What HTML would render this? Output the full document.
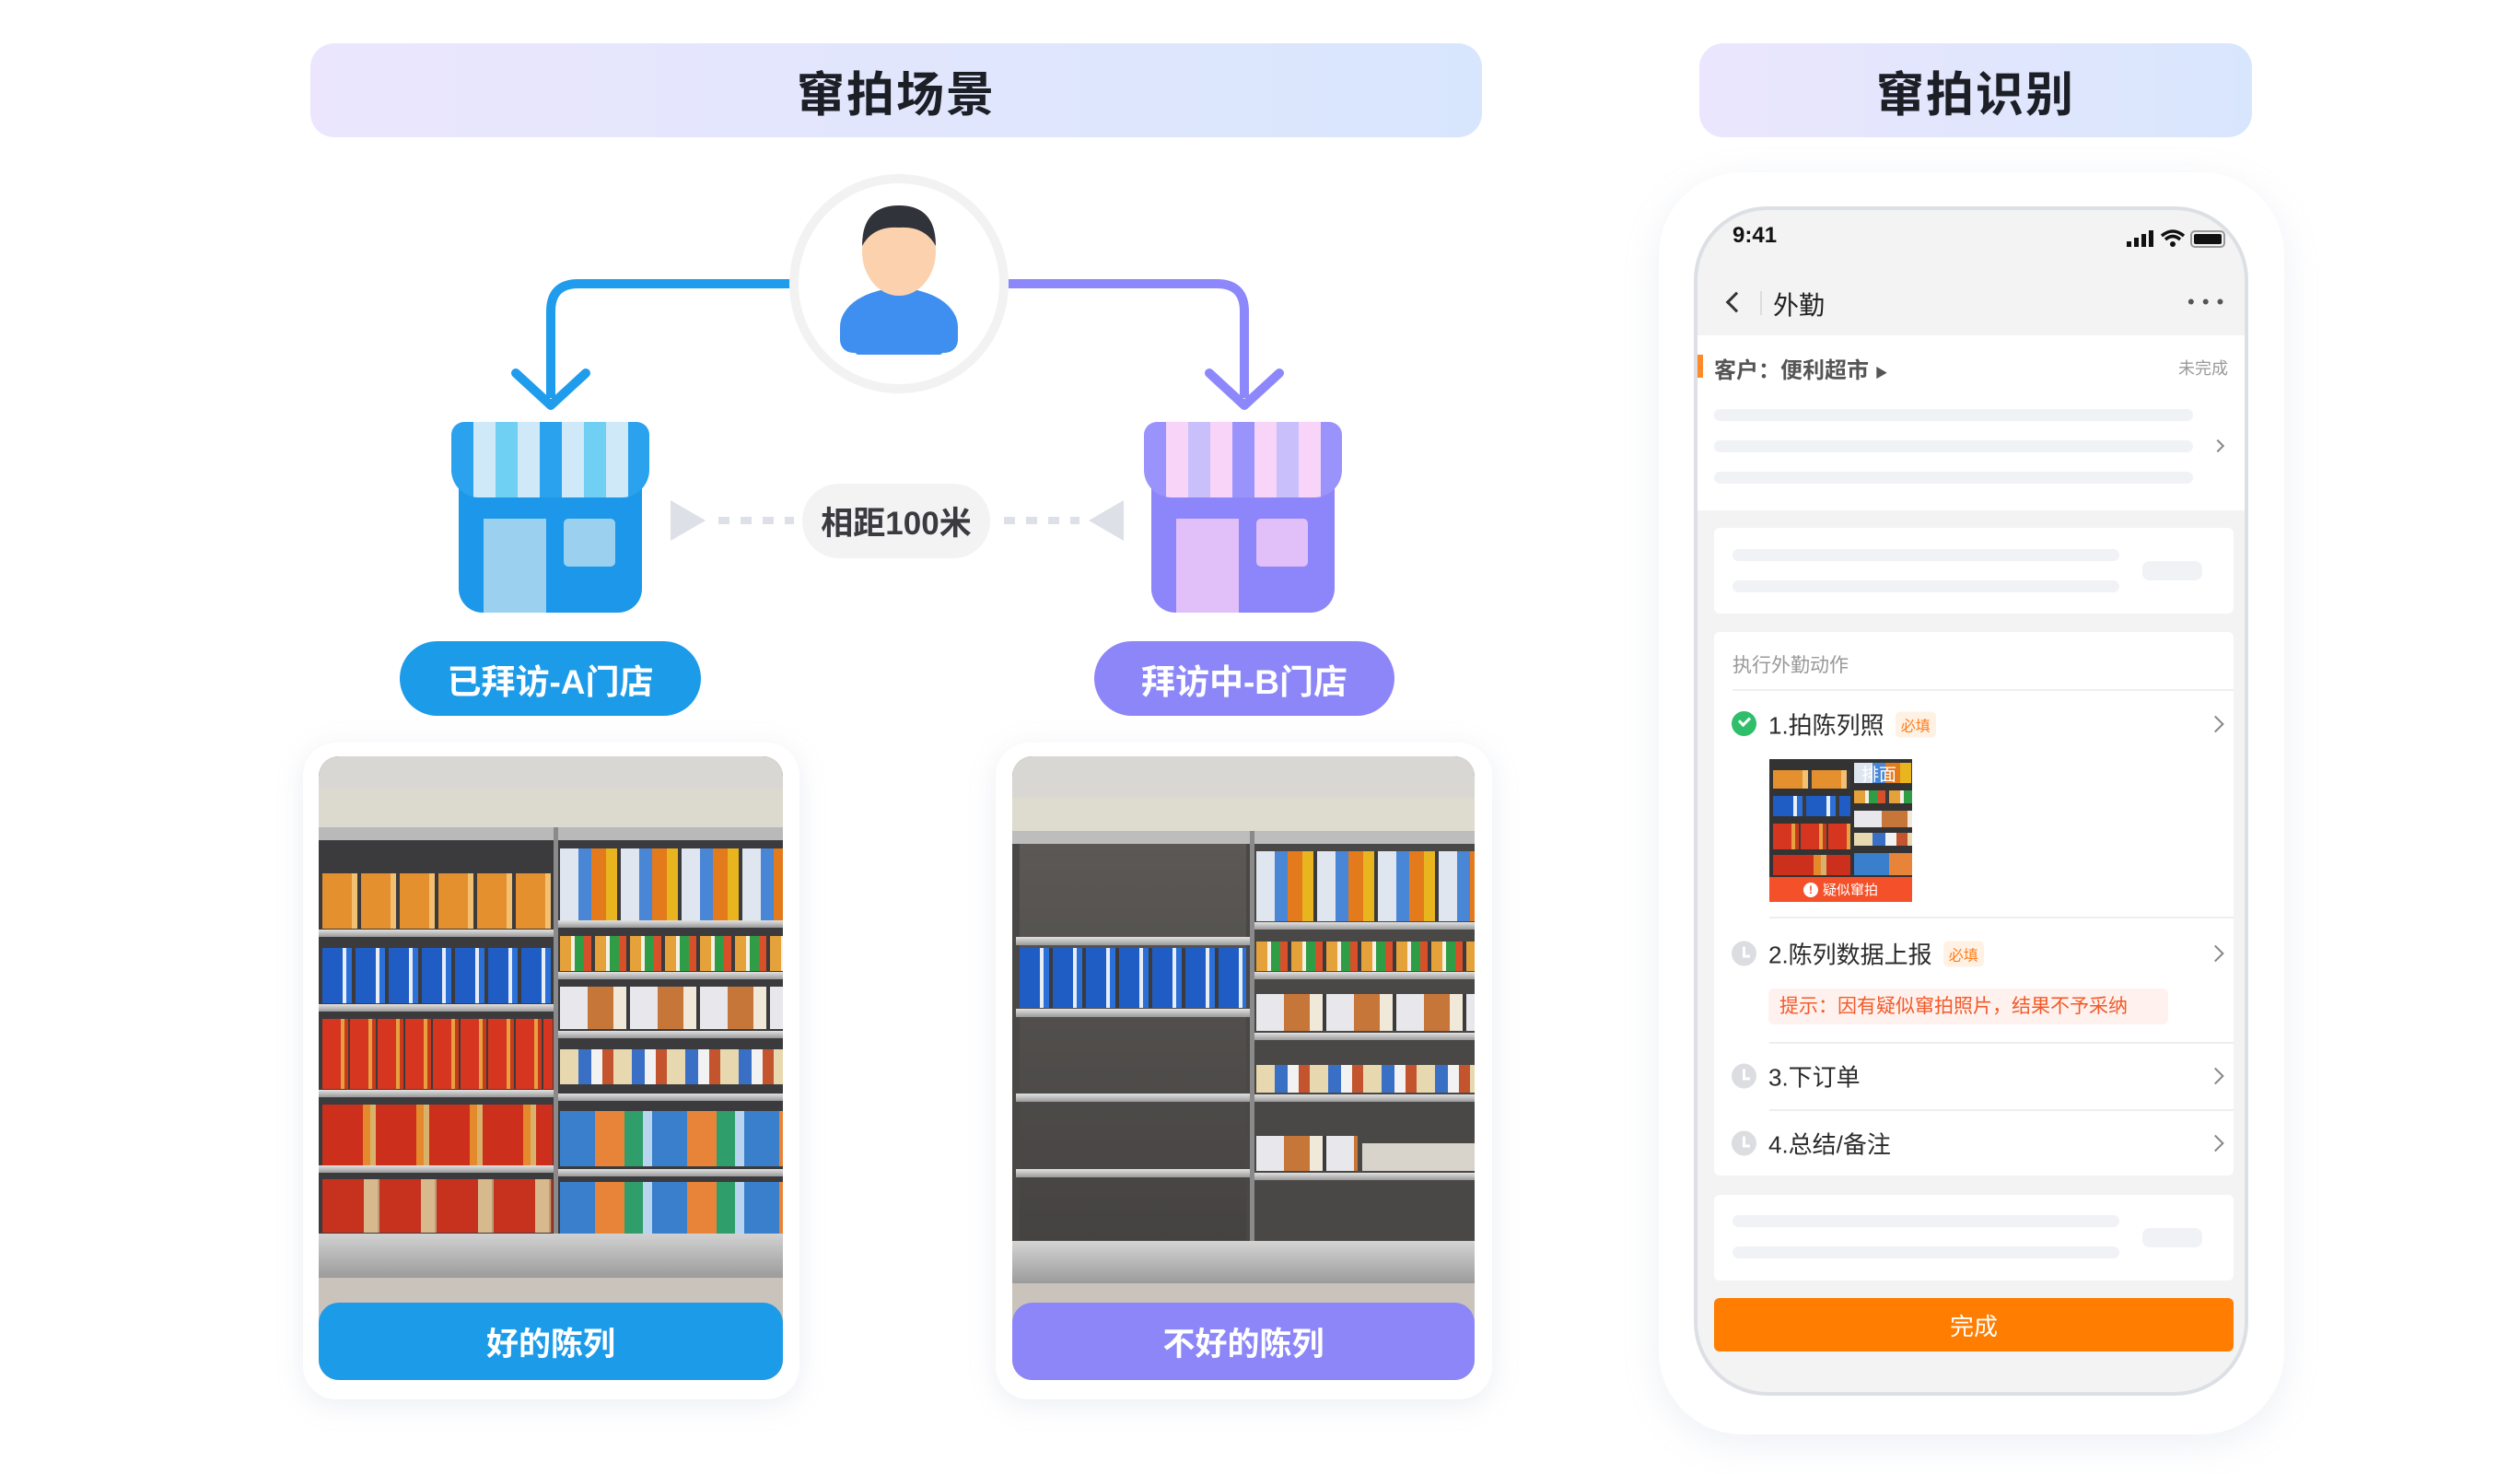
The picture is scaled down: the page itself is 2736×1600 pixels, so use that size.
<!DOCTYPE html>
<html><head><meta charset="utf-8">
<style>
*{margin:0;padding:0;box-sizing:border-box}
body{width:2736px;height:1600px;background:#fff;position:relative;overflow:hidden;font-family:"Liberation Sans","Noto Sans CJK SC",sans-serif}
.a{position:absolute}
.title{position:absolute;border-radius:26px;background:linear-gradient(90deg,#ebe6fd,#d8e6fd);display:flex;align-items:center;justify-content:center;font-size:52px;font-weight:700;color:#1d1f26;letter-spacing:2px}
.pill{position:absolute;border-radius:41px;color:#fff;font-size:37px;font-weight:700;display:flex;align-items:center;justify-content:center}
.card{position:absolute;background:#fff;border-radius:36px;box-shadow:0 6px 30px rgba(150,160,190,.18)}
.photo{position:absolute;border-radius:22px;overflow:hidden;background:#3b3b3d}
.r{position:absolute}
.sh{position:absolute;height:8px;background:linear-gradient(#e2e2e2,#9a9a9a)}
.lab{position:absolute;left:0;right:0;bottom:0;height:84px;border-radius:22px;color:#fff;font-size:35px;font-weight:700;display:flex;align-items:center;justify-content:center}
.jar{background:repeating-linear-gradient(90deg,#e5902f 0 32px,#f2c070 32px 38px,#3b3b3d 38px 42px)}
.blu{background:repeating-linear-gradient(90deg,#1f5dc4 0 22px,#e8eef8 22px 26px,#2b6fd8 26px 32px,#3b3b3d 32px 36px)}
.red{background:repeating-linear-gradient(90deg,#d6361f 0 20px,#e8a040 20px 24px,#c93a1a 24px 28px,#3b3b3d 28px 30px)}
.bag{background:repeating-linear-gradient(90deg,#cc2f1c 0 44px,#e48a2c 44px 52px,#d8b26a 52px 58px)}
.bag2{background:repeating-linear-gradient(90deg,#c6321e 0 45px,#d7b98d 45px 60px,#b99f78 60px 62px)}
.bot{background:repeating-linear-gradient(90deg,#dfe6ef 0 20px,#4a86d6 20px 34px,#e37a1c 34px 50px,#e8b51e 50px 62px,#3b3b3d 62px 66px)}
.sm{background:repeating-linear-gradient(90deg,#e6a23a 0 12px,#f4f0e6 12px 16px,#2f9d46 16px 26px,#d8502a 26px 34px,#3b3b3d 34px 38px)}
.box{background:repeating-linear-gradient(90deg,#e8e8ec 0 30px,#c7763a 30px 58px,#f0e8d8 58px 72px,#3b3b3d 72px 76px)}
.box2{background:repeating-linear-gradient(90deg,#e8d8b0 0 20px,#3a6fc6 20px 34px,#f2f2f2 34px 46px,#c4542e 46px 58px)}
.bbag{background:repeating-linear-gradient(90deg,#3a7fcc 0 38px,#e8843a 38px 70px,#2f9e6a 70px 90px,#b8d4ee 90px 100px)}
.sk{position:absolute;height:13px;border-radius:7px;background:#f1f2f6}
.item{position:absolute;left:77px;font-size:26px;color:#2b2b2b;transform:translateY(-50%);display:flex;align-items:center}
.badge{font-size:16px;color:#ff7d1a;background:#fff1e4;padding:2px 6px;border-radius:5px;margin-left:12px}
.chev{position:absolute;left:572px;width:13px;height:13px;border-right:2.5px solid #888;border-top:2.5px solid #888;transform:translateY(-50%) rotate(45deg)}
.clk{position:absolute;left:37px;width:27px;height:27px;border-radius:50%;background:#dcdde0;transform:translateY(-50%)}
.clk:after{content:"";position:absolute;left:12px;top:6px;width:5px;height:9px;border-left:3px solid #fff;border-bottom:3px solid #fff}
.dv{position:absolute;height:2px;background:#eeeeef}
</style></head><body>

<div class="title" style="left:337px;top:47px;width:1272px;height:102px">窜拍场景</div>
<div class="title" style="left:1845px;top:47px;width:600px;height:102px">窜拍识别</div>

<svg class="a" style="left:0;top:0" width="1700" height="800">
<path d="M860 308 H628 Q598 308 598 338 V432" fill="none" stroke="#1f9cec" stroke-width="10"/>
<path d="M560 405 L598 440 L636 405" fill="none" stroke="#1f9cec" stroke-width="10" stroke-linecap="round" stroke-linejoin="round"/>
<path d="M1095 308 H1321 Q1351 308 1351 338 V432" fill="none" stroke="#8c88fb" stroke-width="10"/>
<path d="M1313 405 L1351 440 L1389 405" fill="none" stroke="#8c88fb" stroke-width="10" stroke-linecap="round" stroke-linejoin="round"/>
<path d="M728 543 L766 565 L728 587 Z" fill="#dde0e6"/>
<path d="M1220 543 L1182 565 L1220 587 Z" fill="#dde0e6"/>
<line x1="780" y1="565" x2="862" y2="565" stroke="#dde0e6" stroke-width="8" stroke-dasharray="12 12"/>
<line x1="1090" y1="565" x2="1172" y2="565" stroke="#dde0e6" stroke-width="8" stroke-dasharray="12 12"/>
</svg>

<div class="a" style="left:857px;top:189px;width:238px;height:238px;border-radius:50%;border:10px solid #f2f2f3;background:#fff"></div>
<svg class="a" style="left:900px;top:215px" width="150" height="170">
<ellipse cx="76" cy="140" rx="64" ry="42" fill="#3f8ff0"/>
<rect x="12" y="130" width="128" height="38" rx="14" fill="#3f8ff0"/>
<ellipse cx="76" cy="58" rx="40" ry="48" fill="#fbd2ad"/>
<path d="M36 52 Q36 8 76 8 Q116 8 116 52 Q104 30 76 32 Q48 30 36 52Z" fill="#30333a"/>
</svg>

<div class="a" style="left:490px;top:458px;width:215px;height:207px">
 <div class="a" style="left:8px;top:60px;width:199px;height:147px;border-radius:0 0 26px 26px;background:#1c97e9"></div>
 <div class="a" style="left:0;top:0;width:215px;height:82px;border-radius:14px 14px 30px 30px;background:repeating-linear-gradient(90deg,#2aa2ee 0 24px,#cfe9f8 24px 48px,#6fd0f4 48px 72px,#cfe9f8 72px 96px)"></div>
 <div class="a" style="left:35px;top:105px;width:68px;height:102px;background:#9bd1ef"></div>
 <div class="a" style="left:122px;top:105px;width:56px;height:52px;border-radius:5px;background:#9bd1ef"></div>
</div>
<div class="a" style="left:1242px;top:458px;width:215px;height:207px">
 <div class="a" style="left:8px;top:60px;width:199px;height:147px;border-radius:0 0 26px 26px;background:#8d85fa"></div>
 <div class="a" style="left:0;top:0;width:215px;height:82px;border-radius:14px 14px 30px 30px;background:repeating-linear-gradient(90deg,#9a93fb 0 24px,#f7d4f8 24px 48px,#c9c0fb 48px 72px,#f7d4f8 72px 96px)"></div>
 <div class="a" style="left:35px;top:105px;width:68px;height:102px;background:#e1bff9"></div>
 <div class="a" style="left:122px;top:105px;width:56px;height:52px;border-radius:5px;background:#e1bff9"></div>
</div>

<div class="a" style="left:871px;top:525px;width:204px;height:81px;border-radius:40px;background:#f3f3f4;display:flex;align-items:center;justify-content:center;font-size:35px;font-weight:700;color:#3a3a3f">相距100米</div>

<div class="pill" style="left:434px;top:696px;width:327px;height:81px;background:#1c9be9">已拜访-A门店</div>
<div class="pill" style="left:1188px;top:696px;width:326px;height:81px;background:#8c86f9">拜访中-B门店</div>

<div class="card" style="left:329px;top:806px;width:539px;height:713px"></div>
<div class="photo" style="left:346px;top:821px;width:504px;height:677px">
 <div class="r" style="left:0;top:0;width:504px;height:35px;background:#d9d7d3"></div>
 <div class="r" style="left:0;top:35px;width:504px;height:42px;background:#dcd9cf"></div>
 <div class="r" style="left:0;top:77px;width:504px;height:14px;background:#b9b9b9"></div>
 <div class="r" style="left:255px;top:77px;width:5px;height:500px;background:#8a8a8a"></div>
 <div class="r jar" style="left:4px;top:127px;width:250px;height:60px"></div>
 <div class="r blu" style="left:4px;top:208px;width:250px;height:60px"></div>
 <div class="r red" style="left:4px;top:285px;width:250px;height:76px"></div>
 <div class="r bag" style="left:4px;top:378px;width:250px;height:66px"></div>
 <div class="r bag2" style="left:4px;top:459px;width:250px;height:58px"></div>
 <div class="sh" style="left:0;top:188px;width:255px"></div>
 <div class="sh" style="left:0;top:269px;width:255px"></div>
 <div class="sh" style="left:0;top:362px;width:255px"></div>
 <div class="sh" style="left:0;top:444px;width:255px"></div>
 <div class="r bot" style="left:262px;top:100px;width:242px;height:78px"></div>
 <div class="r sm" style="left:262px;top:195px;width:242px;height:38px"></div>
 <div class="r box" style="left:262px;top:250px;width:242px;height:46px"></div>
 <div class="r box2" style="left:262px;top:318px;width:242px;height:38px"></div>
 <div class="r bbag" style="left:262px;top:385px;width:242px;height:60px"></div>
 <div class="r bbag" style="left:262px;top:462px;width:242px;height:56px"></div>
 <div class="sh" style="left:260px;top:178px;width:244px"></div>
 <div class="sh" style="left:260px;top:234px;width:244px"></div>
 <div class="sh" style="left:260px;top:298px;width:244px"></div>
 <div class="sh" style="left:260px;top:366px;width:244px"></div>
 <div class="sh" style="left:260px;top:448px;width:244px"></div>
 <div class="r" style="left:0;top:518px;width:504px;height:48px;background:linear-gradient(#d2d2d2,#9b9b9b)"></div>
 <div class="r" style="left:0;top:566px;width:504px;height:111px;background:#c9c3bb"></div>
 <div class="lab" style="background:#1c9be9">好的陈列</div>
</div>

<div class="card" style="left:1081px;top:806px;width:539px;height:713px"></div>
<div class="photo" style="left:1099px;top:821px;width:502px;height:677px;background:#4a4846">
 <div class="r" style="left:0;top:0;width:502px;height:45px;background:#d9d7d3"></div>
 <div class="r" style="left:0;top:45px;width:502px;height:36px;background:#dedbcf"></div>
 <div class="r" style="left:0;top:81px;width:502px;height:14px;background:#bdbdbd"></div>
 <div class="r" style="left:258px;top:81px;width:5px;height:500px;background:#8a8a8a"></div>
 <div class="r" style="left:8px;top:95px;width:246px;height:430px;background:linear-gradient(#5b5855,#454341)"></div>
 <div class="r blu" style="left:8px;top:208px;width:246px;height:65px"></div>
 <div class="sh" style="left:4px;top:196px;width:254px;height:9px"></div>
 <div class="sh" style="left:4px;top:274px;width:254px;height:9px"></div>
 <div class="sh" style="left:4px;top:366px;width:254px;height:9px"></div>
 <div class="sh" style="left:4px;top:448px;width:254px;height:9px"></div>
 <div class="r bot" style="left:265px;top:103px;width:237px;height:76px"></div>
 <div class="r sm" style="left:265px;top:201px;width:237px;height:32px"></div>
 <div class="r box" style="left:265px;top:258px;width:237px;height:40px"></div>
 <div class="r box2" style="left:265px;top:335px;width:237px;height:30px"></div>
 <div class="r box" style="left:265px;top:412px;width:110px;height:38px"></div>
 <div class="r" style="left:380px;top:420px;width:122px;height:30px;background:#d8d4cc"></div>
 <div class="sh" style="left:263px;top:180px;width:239px"></div>
 <div class="sh" style="left:263px;top:234px;width:239px"></div>
 <div class="sh" style="left:263px;top:300px;width:239px"></div>
 <div class="sh" style="left:263px;top:367px;width:239px"></div>
 <div class="sh" style="left:263px;top:452px;width:239px"></div>
 <div class="r" style="left:0;top:526px;width:502px;height:46px;background:linear-gradient(#d4d4d4,#9b9b9b)"></div>
 <div class="r" style="left:0;top:572px;width:502px;height:105px;background:#c9c3bb"></div>
 <div class="lab" style="background:#8c86f9">不好的陈列</div>
</div>

<div class="card" style="left:1801px;top:187px;width:679px;height:1370px;border-radius:90px;box-shadow:0 10px 40px rgba(150,160,190,.16)"></div>
<div class="a" style="left:1839px;top:224px;width:602px;height:1291px;border-radius:80px;border:4px solid #dcdfe4;background:#f3f3f4;overflow:hidden">
 <div class="a" style="left:38px;top:14px;font-size:24px;font-weight:700;color:#111">9:41</div>
 <svg class="a" style="left:466px;top:20px" width="118" height="26">
  <rect x="0" y="14" width="5" height="6" fill="#111"/><rect x="8" y="10" width="5" height="10" fill="#111"/><rect x="16" y="6" width="5" height="14" fill="#111"/><rect x="24" y="2" width="5" height="18" fill="#111"/>
  <path d="M38 8 Q50 -2 62 8" fill="none" stroke="#111" stroke-width="3.5"/><path d="M42 12 Q50 5 58 12" fill="none" stroke="#111" stroke-width="3.5"/><circle cx="50" cy="17" r="3" fill="#111"/>
  <rect x="70" y="3" width="36" height="17" rx="4" fill="none" stroke="#999" stroke-width="2"/><rect x="73" y="6" width="30" height="11" rx="2" fill="#111"/>
 </svg>
 <div class="a" style="left:34px;top:92px;width:16px;height:16px;border-left:3px solid #333;border-bottom:3px solid #333;transform:rotate(45deg)"></div>
 <div class="a" style="left:68px;top:88px;width:2px;height:26px;background:#ddd"></div>
 <div class="a" style="left:82px;top:82px;font-size:28px;color:#222">外勤</div>
 <div class="a" style="left:532px;top:100px;font-size:22px;color:#555;letter-spacing:1px;line-height:0">• • •</div>
 <div class="a" style="left:0;top:136px;width:602px;height:190px;background:#fff"></div>
 <div class="a" style="left:0;top:157px;width:6px;height:25px;background:#ff8a2a"></div>
 <div class="a" style="left:18px;top:154px;font-size:24px;font-weight:700;color:#555">客户：便利超市 <span style="font-size:14px">▶</span></div>
 <div class="a" style="left:522px;top:158px;font-size:18px;color:#999">未完成</div>
 <div class="sk" style="left:18px;top:216px;width:520px"></div>
 <div class="sk" style="left:18px;top:250px;width:520px"></div>
 <div class="sk" style="left:18px;top:284px;width:520px"></div>
 <div class="chev" style="left:560px;top:256px;width:10px;height:10px;border-width:2px"></div>
 <div class="a" style="left:18px;top:345px;width:564px;height:93px;background:#fff;border-radius:6px"></div>
 <div class="sk" style="left:38px;top:368px;width:420px"></div>
 <div class="sk" style="left:38px;top:402px;width:420px"></div>
 <div class="sk" style="left:483px;top:381px;width:65px;height:21px;border-radius:8px"></div>
 <div class="a" style="left:18px;top:458px;width:564px;height:590px;background:#fff;border-radius:6px"></div>
 <div class="a" style="left:38px;top:478px;font-size:21px;color:#999">执行外勤动作</div>
 <div class="dv" style="left:38px;top:520px;width:544px"></div>
 <div class="a" style="left:37px;top:544px;width:27px;height:27px;border-radius:50%;background:#2fbe6a"></div>
 <div class="a" style="left:45px;top:550px;width:12px;height:8px;border-left:3px solid #fff;border-bottom:3px solid #fff;transform:rotate(-45deg)"></div>
 <div class="item" style="top:558px">1.拍陈列照<span class="badge">必填</span></div>
 <div class="chev" style="left:556px;top:558px"></div>
 <div class="a" style="left:78px;top:596px;width:155px;height:155px;overflow:hidden;background:#333">
  <div class="r jar" style="left:4px;top:12px;width:84px;height:20px"></div>
  <div class="r blu" style="left:4px;top:40px;width:84px;height:22px"></div>
  <div class="r red" style="left:4px;top:70px;width:84px;height:28px"></div>
  <div class="r bag" style="left:4px;top:104px;width:84px;height:22px"></div>
  <div class="r bot" style="left:92px;top:4px;width:63px;height:22px"></div>
  <div class="r sm" style="left:92px;top:34px;width:63px;height:14px"></div>
  <div class="r box" style="left:92px;top:56px;width:63px;height:18px"></div>
  <div class="r box2" style="left:92px;top:80px;width:63px;height:14px"></div>
  <div class="r bbag" style="left:92px;top:102px;width:63px;height:24px"></div>
  <div class="r" style="left:100px;top:2px;font-size:19px;color:#fff">排面</div>
  <div class="r" style="left:0;top:128px;width:155px;height:27px;background:#f4502a;color:#fff;font-size:15px;display:flex;align-items:center;justify-content:center"><span style="display:inline-block;width:16px;height:16px;border-radius:50%;background:#fff;color:#f4502a;font-size:12px;font-weight:700;text-align:center;line-height:16px;margin-right:5px">!</span>疑似窜拍</div>
 </div>
 <div class="dv" style="left:78px;top:767px;width:504px"></div>
 <div class="clk" style="top:807px"></div>
 <div class="item" style="top:807px">2.陈列数据上报<span class="badge">必填</span></div>
 <div class="chev" style="left:556px;top:807px"></div>
 <div class="a" style="left:77px;top:845px;width:434px;height:39px;background:#fff2ee;border-radius:6px;color:#f25a2a;font-size:21px;line-height:39px;padding-left:12px">提示：因有疑似窜拍照片，结果不予采纳</div>
 <div class="dv" style="left:78px;top:903px;width:504px"></div>
 <div class="clk" style="top:940px"></div>
 <div class="item" style="top:940px">3.下订单</div>
 <div class="chev" style="left:556px;top:940px"></div>
 <div class="dv" style="left:78px;top:976px;width:504px"></div>
 <div class="clk" style="top:1013px"></div>
 <div class="item" style="top:1013px">4.总结/备注</div>
 <div class="chev" style="left:556px;top:1013px"></div>
 <div class="a" style="left:18px;top:1069px;width:564px;height:93px;background:#fff;border-radius:6px"></div>
 <div class="sk" style="left:38px;top:1091px;width:420px"></div>
 <div class="sk" style="left:38px;top:1125px;width:420px"></div>
 <div class="sk" style="left:483px;top:1105px;width:65px;height:21px;border-radius:8px"></div>
 <div class="a" style="left:18px;top:1181px;width:564px;height:58px;background:#ff7d00;border-radius:6px;color:#fff;font-size:26px;display:flex;align-items:center;justify-content:center">完成</div>
</div>
</body></html>
